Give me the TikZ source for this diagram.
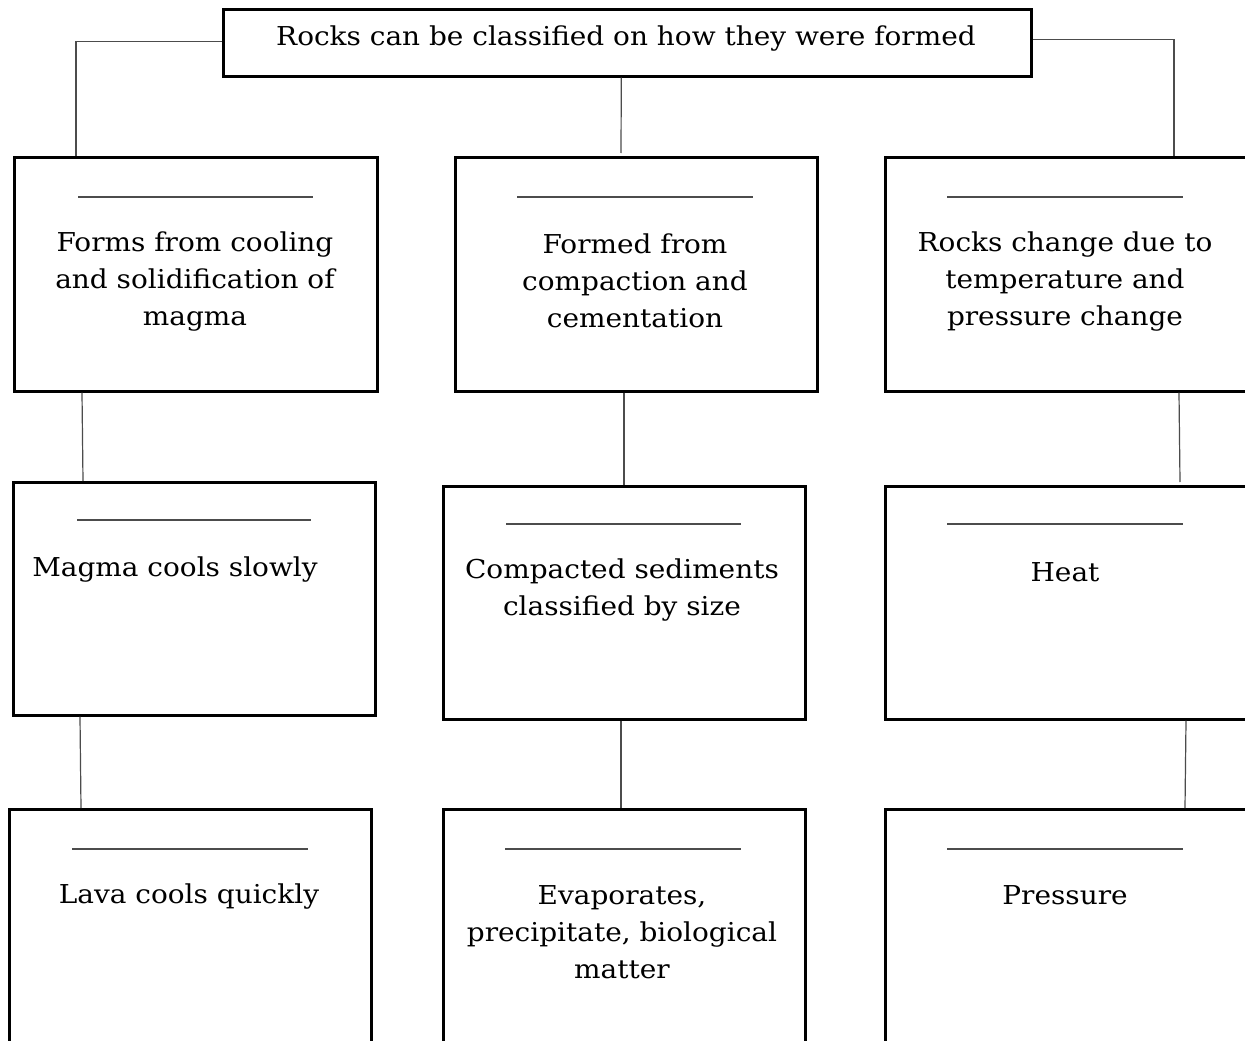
\documentclass[tikz,border=0pt]{standalone}
\usepackage{fontspec}
\setmainfont[FakeStretch=1.075]{DejaVu Serif}
\begin{document}
\begin{tikzpicture}[x=1pt,y=-1pt,
  box/.style={draw=black,line width=2.6pt,rectangle,anchor=north west,inner sep=0pt},
  conn/.style={draw=black!70,line width=1.2pt},
  blank/.style={draw=black!70,line width=1.3pt},
  txt/.style={font=\fontsize{26}{37}\selectfont,align=center,inner sep=0pt,anchor=center}]
\clip (0,0) rectangle (1245,1041);
\fill[white] (0,0) rectangle (1245,1041);
% boxes
\node[box,minimum width=808pt,minimum height=67pt] (top) at (222,8) {};
\node[box,minimum width=363pt,minimum height=234pt] (l1) at (13,156) {};
\node[box,minimum width=362pt,minimum height=234pt] (m1) at (454,156) {};
\node[box,minimum width=420pt,minimum height=234pt] (r1) at (884,156) {};
\node[box,minimum width=362pt,minimum height=233pt] (l2) at (12,481) {};
\node[box,minimum width=362pt,minimum height=233pt] (m2) at (442,485) {};
\node[box,minimum width=420pt,minimum height=233pt] (r2) at (884,485) {};
\node[box,minimum width=362pt,minimum height=300pt] (l3) at (8,808) {};
\node[box,minimum width=362pt,minimum height=300pt] (m3) at (442,808) {};
\node[box,minimum width=420pt,minimum height=300pt] (r3) at (884,808) {};
% texts
\node[txt] (ttop) at (626,39) {Rocks can be classified on how they were formed};
\node[txt] (tl1) at (195,282) {Forms from cooling\\and solidification of\\magma};
\node[txt] (tm1) at (635,281) {Formed from\\compaction and\\cementation};
\node[txt] (tr1) at (1065,282) {Rocks change due to\\temperature and\\pressure change};
\node[txt] (tl2) at (175,570) {Magma cools slowly};
\node[txt] (tm2) at (622,590) {Compacted sediments\\classified by size};
\node[txt] (tr2) at (1065,572) {Heat};
\node[txt] (tl3) at (189,897) {Lava cools quickly};
\node[txt] (tm3) at (622,932) {Evaporates,\\precipitate, biological\\matter};
\node[txt] (tr3) at (1065,895) {Pressure};
% blank answer lines
\draw[blank] ([shift={(65,41)}]l1.north west) -- ++(235,0);
\draw[blank] ([shift={(63,41)}]m1.north west) -- ++(236,0);
\draw[blank] ([shift={(63,41)}]r1.north west) -- ++(236,0);
\draw[blank] ([shift={(65,39)}]l2.north west) -- ++(234,0);
\draw[blank] ([shift={(64,39)}]m2.north west) -- ++(235,0);
\draw[blank] ([shift={(63,39)}]r2.north west) -- ++(236,0);
\draw[blank] ([shift={(64,41)}]l3.north west) -- ++(236,0);
\draw[blank] ([shift={(63,41)}]m3.north west) -- ++(236,0);
\draw[blank] ([shift={(63,41)}]r3.north west) -- ++(236,0);
% connectors
\draw[conn] ([yshift=1pt]top.west) -| ([xshift=63pt]l1.north west);
\draw[conn] ([yshift=3pt]top.east) -| ([xshift=290pt]r1.north west);
\draw[conn] ([xshift=-6pt]top.south) -- ([shift={(167,-3)}]m1.north west);
\draw[conn] ([xshift=69pt]l1.south west) -- ([xshift=71pt]l2.north west);
\draw[conn] ([xshift=170pt]m1.south west) -- ([xshift=182pt]m2.north west);
\draw[conn] ([xshift=295pt]r1.south west) -- ([shift={(296,-3)}]r2.north west);
\draw[conn] ([xshift=68pt]l2.south west) -- ([xshift=73pt]l3.north west);
\draw[conn] ([xshift=179pt]m2.south west) -- ([xshift=179pt]m3.north west);
\draw[conn] ([xshift=302pt]r2.south west) -- ([xshift=301pt]r3.north west);
\end{tikzpicture}
\end{document}
